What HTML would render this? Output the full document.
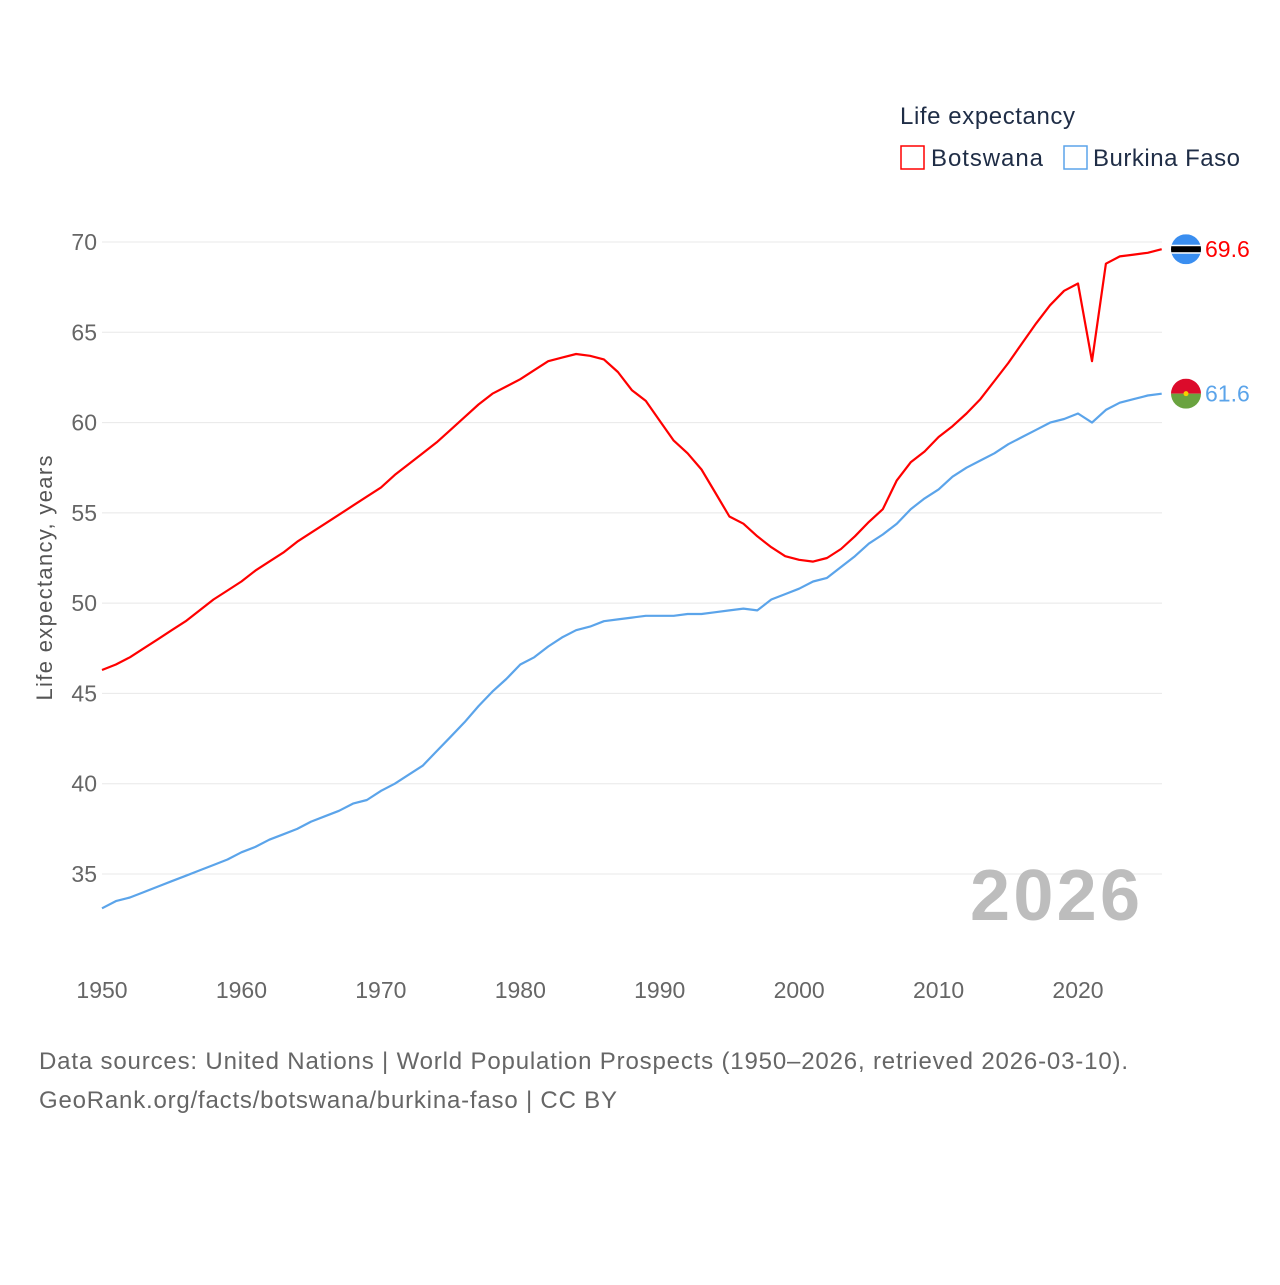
<!DOCTYPE html>
<html><head><meta charset="utf-8"><style>
body{margin:0;background:#fff;font-family:"Liberation Sans",sans-serif}
svg text{font-family:"Liberation Sans",sans-serif}
</style></head><body>
<svg width="1280" height="1280" viewBox="0 0 1280 1280">
<g id="grid"></g><g id="lines"></g><g id="ticks"></g>
<text x="900" y="124" font-size="24" fill="#1f2d46" textLength="175">Life expectancy</text>
<rect x="901" y="146" width="23" height="23" fill="none" stroke="#ff0000" stroke-width="1.5"/>
<text x="931" y="166" font-size="24" fill="#1f2d46" textLength="112">Botswana</text>
<rect x="1064" y="146" width="23" height="23" fill="none" stroke="#5ba4ea" stroke-width="1.5"/>
<text x="1093" y="166" font-size="24" fill="#1f2d46" textLength="147">Burkina Faso</text>
<text x="-578" y="52" transform="rotate(-90)" text-anchor="middle" font-size="22" fill="#555" textLength="245">Life expectancy, years</text>
<text x="970" y="920" font-size="72" font-weight="bold" fill="#bdbdbd" textLength="170">2026</text>
<text x="39" y="1069" font-size="24" fill="#666" textLength="1089">Data sources: United Nations | World Population Prospects (1950–2026, retrieved 2026-03-10).</text>
<text x="39" y="1108" font-size="24" fill="#666" textLength="578">GeoRank.org/facts/botswana/burkina-faso | CC BY</text>
</svg>
<script>
const years=[];for(let y=1950;y<=2026;y++)years.push(y);
const botswana=[46.3,46.6,47.0,47.5,48.0,48.5,49.0,49.6,50.2,50.7,51.2,51.8,52.3,52.8,53.4,53.9,54.4,54.9,55.4,55.9,56.4,57.1,57.7,58.3,58.9,59.6,60.3,61.0,61.6,62.0,62.4,62.9,63.4,63.6,63.8,63.7,63.5,62.8,61.8,61.2,60.1,59.0,58.3,57.4,56.1,54.8,54.4,53.7,53.1,52.6,52.4,52.3,52.5,53.0,53.7,54.5,55.2,56.8,57.8,58.4,59.2,59.8,60.5,61.3,62.3,63.3,64.4,65.5,66.5,67.3,67.7,63.4,68.8,69.2,69.3,69.4,69.6];
const burkina=[33.1,33.5,33.7,34.0,34.3,34.6,34.9,35.2,35.5,35.8,36.2,36.5,36.9,37.2,37.5,37.9,38.2,38.5,38.9,39.1,39.6,40.0,40.5,41.0,41.8,42.6,43.4,44.3,45.1,45.8,46.6,47.0,47.6,48.1,48.5,48.7,49.0,49.1,49.2,49.3,49.3,49.3,49.4,49.4,49.5,49.6,49.7,49.6,50.2,50.5,50.8,51.2,51.4,52.0,52.6,53.3,53.8,54.4,55.2,55.8,56.3,57.0,57.5,57.9,58.3,58.8,59.2,59.6,60.0,60.2,60.5,60.0,60.7,61.1,61.3,61.5,61.6];
const yTicks=[35,40,45,50,55,60,65,70];
const xTicks=[1950,1960,1970,1980,1990,2000,2010,2020];
const NS="http://www.w3.org/2000/svg";
const X=y=>102+(y-1950)*13.943;
const Y=v=>242+(70-v)*18.057;
function mk(p,t,a){const e=document.createElementNS(NS,t);for(const k in a)e.setAttribute(k,a[k]);p.appendChild(e);return e;}
const grid=document.getElementById('grid'),ticks=document.getElementById('ticks'),lines=document.getElementById('lines');
yTicks.forEach(v=>{
 const l=mk(grid,'line',{x1:102,x2:1162,y1:Y(v),y2:Y(v),stroke:'#e8e8e8','stroke-width':1});
 
 
 const t=mk(ticks,'text',{x:97,y:Y(v)+8,'text-anchor':'end','font-size':23,fill:'#666'});t.textContent=v;
 
 
});
xTicks.forEach(v=>{
 const t=mk(ticks,'text',{x:X(v),y:998,'text-anchor':'middle','font-size':23,fill:'#666'});t.textContent=v;
 
 
});
function series(data,color,name){
 const d=data.map((v,i)=>(i?'L':'M')+X(years[i]).toFixed(1)+','+Y(v).toFixed(1)).join('');
 const p=mk(lines,'path',{d:d,fill:'none',stroke:color,'stroke-width':2.2,'stroke-linejoin':'round'});
 
 
 const last=data[data.length-1],cy=Y(last),cx=1186;
 const g=mk(lines,'g',{});
 
 
 const cid='c'+name;
 const cp=mk(g,'clipPath',{id:cid});mk(cp,'circle',{cx:cx,cy:cy,r:15});
 const gg=mk(g,'g',{'clip-path':'url(#'+cid+')'});
 if(name==='botswana'){
  mk(gg,'rect',{x:cx-15,y:cy-15,width:30,height:30,fill:'#3a8ef0'});
  mk(gg,'rect',{x:cx-15,y:cy-4.5,width:30,height:9,fill:'#fff'});
  mk(gg,'rect',{x:cx-15,y:cy-3,width:30,height:6,fill:'#000'});
 }else{
  mk(gg,'rect',{x:cx-15,y:cy-15,width:30,height:15,fill:'#dc0b2b'});
  mk(gg,'rect',{x:cx-15,y:cy,width:30,height:15,fill:'#6aa33f'});
  mk(gg,'circle',{cx:cx,cy:cy,r:2.5,fill:'#f5d000'});
 }
 const t=mk(lines,'text',{x:1205,y:cy+8,'font-size':23,fill:color});t.textContent=last.toFixed(1);
 
 
}
series(burkina,'#5ba4ea','burkina-faso');
series(botswana,'#ff0000','botswana');
</script>
</body></html>
